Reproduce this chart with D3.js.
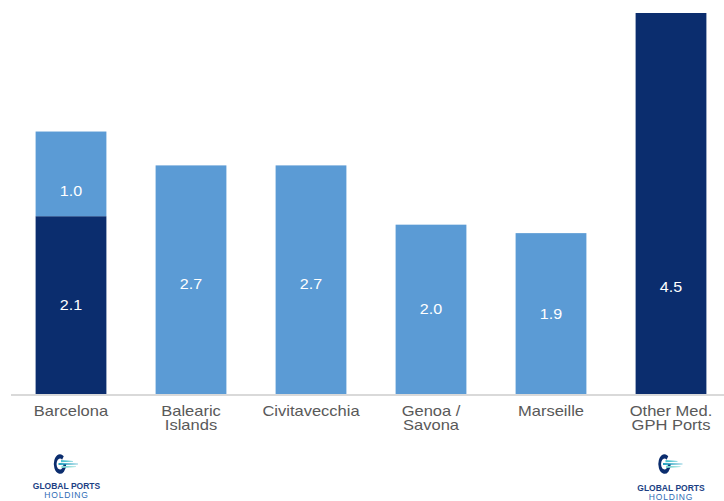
<!DOCTYPE html>
<html>
<head>
<meta charset="utf-8">
<script src="https://cdn.jsdelivr.net/npm/d3@7"></script>
<style>
  body { margin: 0; background: #fff; }
  svg { display: block; font-family: "Liberation Sans", Arial, sans-serif; }
</style>
</head>
<body>
<svg width="724" height="501"></svg>
<script>
// categories (multi-line labels split on |)
var categories = ["Barcelona", "Balearic|Islands", "Civitavecchia", "Genoa /|Savona", "Marseille", "Other Med.|GPH Ports"];
// bottom (dark) and top (light) segments
var darkValues  = [2.1, 0, 0, 0, 0, 4.5];
var lightValues = [1.0, 2.7, 2.7, 2.0, 1.9, 0];
// where the value label sits inside its segment (fraction from the bottom)
var darkLabelAt  = [0.5, 0, 0, 0, 0, 0.28];
var lightLabelAt = [0.30, 0.48, 0.48, 0.5, 0.5, 0];

var svg = d3.select("svg"),
    width = +svg.attr("width"),
    height = +svg.attr("height");

var dark = "#0b2d6e",
    light = "#5b9bd5";

var x = d3.scaleBand()
    .domain(categories)
    .range([11, 731])
    .paddingInner(0.41)
    .paddingOuter(0.205);

var y = d3.scaleLinear()
    .domain([0, 4.5])
    .range([394, 13]);

// stacked rows
var rows = categories.map(function (c, i) {
    return {cat: c, dark: darkValues[i], light: lightValues[i], dl: darkLabelAt[i], ll: lightLabelAt[i]};
});

var bars = svg.append("g");

// dark segments
bars.selectAll(".dark")
    .data(rows.filter(function (d) { return d.dark > 0; }))
    .enter()
    .append("rect")
    .attr("class", "dark")
    .attr("x", function (d) { return x(d.cat); })
    .attr("width", x.bandwidth())
    .attr("y", function (d) { return y(d.dark); })
    .attr("height", function (d) { return y(0) - y(d.dark); })
    .attr("fill", dark);

// light segments on top
bars.selectAll(".light")
    .data(rows.filter(function (d) { return d.light > 0; }))
    .enter()
    .append("rect")
    .attr("class", "light")
    .attr("x", function (d) { return x(d.cat); })
    .attr("width", x.bandwidth())
    .attr("y", function (d) { return y(d.dark + d.light); })
    .attr("height", function (d) { return y(d.dark) - y(d.dark + d.light); })
    .attr("fill", light);

// value labels
function addLabels(list, valFn, baseFn, fracFn) {
    bars.selectAll(null)
        .data(list)
        .enter()
        .append("text")
        .attr("transform", function (d) {
            var cy = y(baseFn(d) + valFn(d) * fracFn(d));
            return "translate(" + (x(d.cat) + x.bandwidth() / 2) + "," + cy + ") scale(1.15,1)";
        })
        .attr("dy", "0.36em")
        .attr("text-anchor", "middle")
        .attr("fill", "#fff")
        .attr("font-size", "14px")
        .text(function (d) { return d3.format(".1f")(valFn(d)); });
}
addLabels(rows.filter(function (d) { return d.dark > 0; }),
    function (d) { return d.dark; }, function () { return 0; }, function (d) { return d.dl; });
addLabels(rows.filter(function (d) { return d.light > 0; }),
    function (d) { return d.light; }, function (d) { return d.dark; }, function (d) { return d.ll; });

// baseline
svg.append("line")
    .attr("x1", 11).attr("x2", width)
    .attr("y1", y(0) + 1).attr("y2", y(0) + 1)
    .attr("stroke", "#d9d9d9")
    .attr("stroke-width", 2);

// category labels
var cat = svg.append("g")
    .selectAll("g")
    .data(categories)
    .enter()
    .append("g")
    .attr("transform", function (d) {
        return "translate(" + (x(d) + x.bandwidth() / 2) + ",415.5) scale(1.18,1)";
    });
cat.each(function (d) {
    var lines = d.split("|");
    var t = d3.select(this).append("text")
        .attr("text-anchor", "middle")
        .attr("fill", "#595959")
        .attr("font-size", "14px");
    lines.forEach(function (l, i) {
        t.append("tspan").attr("x", 0).attr("y", i * 15).text(l);
    });
});

// GPH logos
function logo(cx, cy, textY) {
    var g = svg.append("g").attr("transform", "translate(" + cx + "," + cy + ")");
    // G ring (slightly tall ellipse), open at the upper right
    g.append("path")
        .attr("transform", "scale(0.75,1.18)")
        .attr("d", d3.arc().innerRadius(4.6).outerRadius(8.3)
            .startAngle(Math.PI / 2).endAngle(Math.PI * 2 + 0.65)())
        .attr("fill", dark);
    // stripes
    var stripes = [
        {y: -2.8, x0: 1, x1: 13, c: "#4cc3cf"},
        {y: 0, x0: -1.5, x1: 18, c: "#1d9fbf"},
        {y: 2.8, x0: 1.5, x1: 16, c: "#7fd8d4"}
    ];
    stripes.forEach(function (s) {
        g.append("path")
            .attr("d", "M" + s.x0 + "," + (s.y - 1.1) + " L" + s.x1 + "," + (s.y - 0.3) +
                " L" + s.x1 + "," + (s.y + 0.3) + " L" + s.x0 + "," + (s.y + 1.1) + "Z")
            .attr("fill", s.c);
    });
    g.append("text")
        .attr("x", 6.5)
        .attr("y", textY)
        .attr("text-anchor", "middle")
        .attr("font-size", "8.5px")
        .attr("font-weight", "bold")
        .attr("fill", "#1c3f84")
        .text("GLOBAL PORTS");
    g.append("text")
        .attr("x", 6.5)
        .attr("y", textY + 9)
        .attr("text-anchor", "middle")
        .attr("font-size", "8.5px")
        .attr("letter-spacing", "0.8px")
        .attr("fill", "#2e6bb5")
        .text("HOLDING");
}
logo(60, 464, 25);
logo(664.5, 464, 27);
</script>
</body>
</html>
